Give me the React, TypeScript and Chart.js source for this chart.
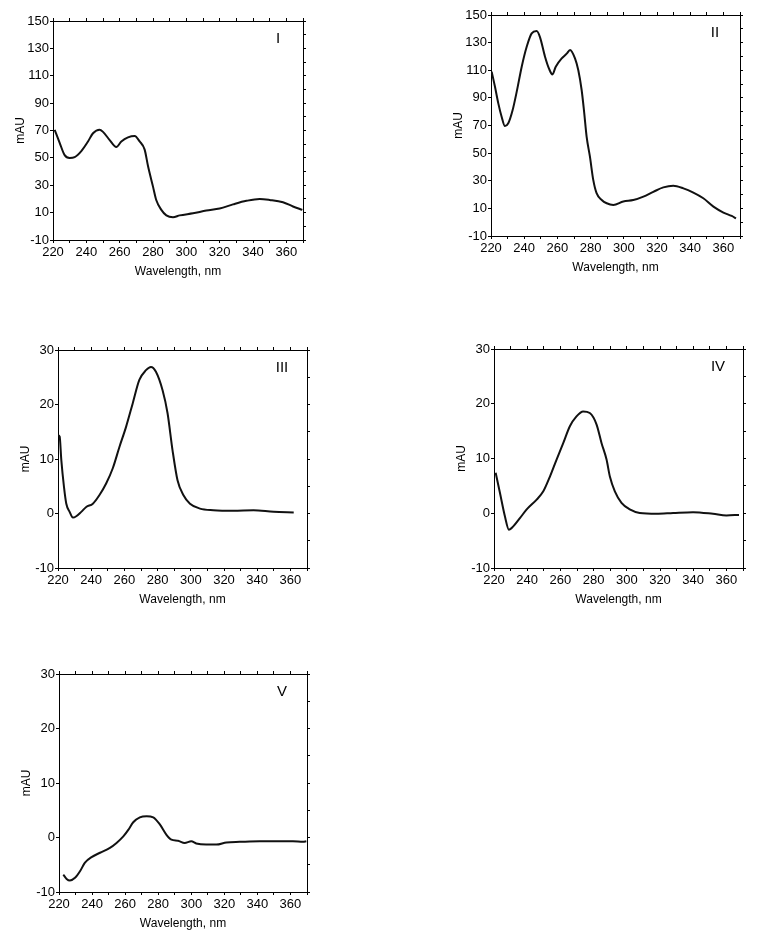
import React, { useEffect, useRef } from "react";
import { Chart, registerables } from "chart.js";

Chart.register(...registerables);

const FONT = '"Liberation Sans", Arial, Helvetica, sans-serif';

// Axis ticks
const xTicks = [220, 230, 240, 250, 260, 270, 280, 290, 300, 310, 320, 330, 340, 350, 360, 370];
const yTicksLarge = [-10, 10, 30, 50, 70, 90, 110, 130, 150];
const yRightLarge = [-10, 0, 10, 20, 30, 40, 50, 60, 70, 80, 90, 100, 110, 120, 130, 140, 150];
const yTicksSmall = [-10, 0, 10, 20, 30];
const yRightSmall = [-10, -5, 0, 5, 10, 15, 20, 25, 30];

// Spectrum I
const wl1 = [221, 224, 227, 230, 233, 237, 241, 244, 248, 250, 254, 258, 261, 265, 269, 272, 275, 277, 280, 282, 285, 288, 292, 296, 304, 312, 320, 328, 336, 344, 350, 358, 364, 369.6];
const ab1 = [70.5, 61, 52, 50, 50.6, 55, 62, 68, 70.6, 69, 63, 58, 62, 65, 66, 62, 56, 44, 29, 19, 12, 8, 6.6, 8, 9.5, 11.5, 13, 16, 18.6, 20, 19.3, 17.6, 14.5, 12];

// Spectrum II
const wl2 = [220.4, 222.4, 224.4, 226.4, 228.4, 230.4, 233, 235.5, 238.5, 241.5, 244.5, 247.5, 249.5, 252.5, 255, 257, 259, 262.6, 265.6, 267.6, 270.6, 272.6, 274.6, 276, 277.6, 279.6, 281.6, 283.6, 286.7, 289.7, 293.7, 299.7, 305.7, 311.8, 317.8, 323.8, 329.8, 335.9, 341.9, 347.9, 354, 360, 365, 367.6];
const ab2 = [109, 98, 86, 76.4, 69.6, 71.6, 81, 94.5, 112.6, 127, 136.7, 138.4, 134, 120, 111, 107, 112.6, 118.6, 122, 124.7, 118.6, 110, 95.7, 81, 62, 47.4, 30.6, 21, 16.1, 13.7, 12.5, 15, 16, 18.5, 22, 25.2, 26.4, 24.5, 21.4, 17.3, 11.3, 7, 4.5, 2.8];

// Spectrum III
const wl3 = [220, 221, 222, 223.6, 225, 227, 229, 231, 234, 237, 241, 245, 249, 253, 257, 261, 265, 269, 273, 276, 279, 283, 286, 289, 292, 295.5, 299.5, 305.5, 313.6, 325.7, 337.8, 349.9, 362];
const ab3 = [14.4, 14.1, 9.8, 4.9, 1.8, 0.3, -0.75, -0.5, 0.3, 1.2, 1.8, 3.4, 5.5, 8.3, 12.2, 15.9, 20.2, 24.5, 26.3, 26.9, 26, 22.6, 18.4, 11.6, 6.1, 3.4, 1.8, 0.9, 0.6, 0.5, 0.6, 0.3, 0.2];

// Spectrum IV
const wl4 = [221, 223.6, 226.6, 229, 231.6, 235.6, 239.7, 245.7, 249.7, 253.7, 257.7, 261.7, 265.7, 269.7, 273.7, 277.7, 281.8, 284.8, 287.8, 289.8, 292.8, 296.8, 301.8, 307.8, 317.9, 327.9, 339.9, 351.9, 360, 367.6];
const ab4 = [7.4, 3.7, -0.6, -3, -2.4, -0.9, 0.7, 2.5, 4, 6.7, 9.8, 12.8, 15.9, 17.7, 18.6, 18.3, 16.2, 12.8, 9.8, 6.7, 4, 1.9, 0.7, 0.05, -0.1, 0.05, 0.2, -0.1, -0.4, -0.3];

// Spectrum V
const wl5 = [222.6, 224.6, 226.6, 229.7, 232.7, 235.7, 239.7, 244.8, 250.8, 254.8, 258.9, 261.9, 264.9, 268.9, 273, 277, 281, 285, 288, 292, 296, 300, 303, 309, 315.2, 321.3, 329.3, 341.4, 353.5, 361.5, 367.6, 369.6];
const ab5 = [-6.8, -7.6, -7.9, -7.4, -6.2, -4.6, -3.6, -2.8, -1.9, -1, 0.2, 1.4, 2.8, 3.7, 3.9, 3.7, 2.4, 0.5, -0.4, -0.6, -1, -0.7, -1.1, -1.3, -1.3, -0.9, -0.8, -0.7, -0.7, -0.7, -0.8, -0.7];

const labels = ["I", "II", "III", "IV", "V"];

type Rect = { l: number; t: number; r: number; b: number };
type PanelDef = {
  label: string;
  wl: number[];
  ab: number[];
  yMin: number;
  yMax: number;
  yTicks: number[];
  yRight: number[];
  rect: Rect;
};

const panels: PanelDef[] = [
  { label: labels[0], wl: wl1, ab: ab1, yMin: -10, yMax: 150, yTicks: yTicksLarge, yRight: yRightLarge, rect: { l: 53, t: 21, r: 303, b: 240 } },
  { label: labels[1], wl: wl2, ab: ab2, yMin: -10, yMax: 150, yTicks: yTicksLarge, yRight: yRightLarge, rect: { l: 491, t: 15, r: 740, b: 236 } },
  { label: labels[2], wl: wl3, ab: ab3, yMin: -10, yMax: 30, yTicks: yTicksSmall, yRight: yRightSmall, rect: { l: 58, t: 350, r: 307, b: 568 } },
  { label: labels[3], wl: wl4, ab: ab4, yMin: -10, yMax: 30, yTicks: yTicksSmall, yRight: yRightSmall, rect: { l: 494, t: 349, r: 743, b: 568 } },
  { label: labels[4], wl: wl5, ab: ab5, yMin: -10, yMax: 30, yTicks: yTicksSmall, yRight: yRightSmall, rect: { l: 59, t: 674, r: 307, b: 892 } },
];

const LEFT_W = 55;
const TOP_H = 14;
const RIGHT_W = 14;
const BOTTOM_H = 50;

const numeralPlugin = {
  id: "numeral",
  afterDraw(chart: any, _args: any, opts: any) {
    const { ctx, chartArea } = chart;
    ctx.save();
    ctx.font = `15px ${FONT}`;
    ctx.fillStyle = "#000";
    ctx.textAlign = "center";
    ctx.textBaseline = "middle";
    ctx.fillText(opts.text, chartArea.right - 25, chartArea.top + 18);
    ctx.restore();
  },
};

function Panel({ p }: { p: PanelDef }) {
  const ref = useRef<HTMLCanvasElement | null>(null);
  const W = p.rect.r - p.rect.l + LEFT_W + RIGHT_W;
  const H = p.rect.b - p.rect.t + TOP_H + BOTTOM_H;

  useEffect(() => {
    if (!ref.current) return;
    const data = p.wl.map((x, i) => ({ x, y: p.ab[i] }));
    const axisBorder = { display: true, color: "#000", width: 1 };
    const chart = new Chart(ref.current, {
      type: "line",
      data: {
        datasets: [
          {
            data,
            borderColor: "#111",
            borderWidth: 2,
            pointRadius: 0,
            tension: 0.4,
            cubicInterpolationMode: "monotone",
            fill: false,
          } as any,
        ],
      },
      options: {
        animation: false,
        responsive: false,
        maintainAspectRatio: false,
        layout: { padding: 0 },
        plugins: {
          legend: { display: false },
          tooltip: { enabled: false },
          numeral: { text: p.label },
        } as any,
        scales: {
          x: {
            type: "linear",
            position: "bottom",
            min: 220,
            max: 370,
            afterBuildTicks: (s: any) => {
              s.ticks = xTicks.map((v) => ({ value: v }));
            },
            afterFit: (s: any) => {
              s.height = BOTTOM_H;
            },
            ticks: {
              autoSkip: false,
              maxRotation: 0,
              color: "#000",
              padding: 2,
              font: { family: FONT, size: 13 },
              callback: (v: any) => (Number(v) % 20 === 0 ? String(v) : ""),
            },
            grid: { drawOnChartArea: false, drawTicks: true, tickLength: 3, color: "#000" },
            border: axisBorder,
            title: {
              display: true,
              text: "Wavelength, nm",
              color: "#000",
              font: { family: FONT, size: 12 },
              padding: { top: 0, bottom: 11 },
            },
          },
          x2: {
            type: "linear",
            position: "top",
            min: 220,
            max: 370,
            afterBuildTicks: (s: any) => {
              s.ticks = xTicks.map((v) => ({ value: v }));
            },
            afterFit: (s: any) => {
              s.height = TOP_H;
            },
            ticks: { display: false },
            grid: { drawOnChartArea: false, drawTicks: true, tickLength: 3, color: "#000" },
            border: axisBorder,
          },
          y: {
            type: "linear",
            position: "left",
            min: p.yMin,
            max: p.yMax,
            afterBuildTicks: (s: any) => {
              s.ticks = p.yTicks.map((v) => ({ value: v }));
            },
            afterFit: (s: any) => {
              s.width = LEFT_W;
            },
            ticks: {
              color: "#000",
              padding: 1,
              font: { family: FONT, size: 13 },
            },
            grid: { drawOnChartArea: false, drawTicks: true, tickLength: 3, color: "#000" },
            border: axisBorder,
            title: {
              display: true,
              text: "mAU",
              color: "#000",
              font: { family: FONT, size: 12 },
              padding: { top: 15, bottom: 0 },
            },
          },
          y2: {
            type: "linear",
            position: "right",
            min: p.yMin,
            max: p.yMax,
            afterBuildTicks: (s: any) => {
              s.ticks = p.yRight.map((v) => ({ value: v }));
            },
            afterFit: (s: any) => {
              s.width = RIGHT_W;
            },
            ticks: { display: false },
            grid: { drawOnChartArea: false, drawTicks: true, tickLength: 3, color: "#000" },
            border: axisBorder,
          },
        },
      } as any,
      plugins: [numeralPlugin],
    });
    return () => chart.destroy();
  }, [p]);

  return (
    <canvas
      ref={ref}
      width={W}
      height={H}
      style={{
        position: "absolute",
        left: p.rect.l - LEFT_W,
        top: p.rect.t - TOP_H,
        width: W,
        height: H,
      }}
    />
  );
}

export default function App() {
  return (
    <div
      style={{
        position: "absolute",
        left: 0,
        top: 0,
        width: 758,
        height: 937,
        background: "#fff",
        overflow: "hidden",
      }}
    >
      {panels.map((p) => (
        <Panel key={p.label} p={p} />
      ))}
    </div>
  );
}
